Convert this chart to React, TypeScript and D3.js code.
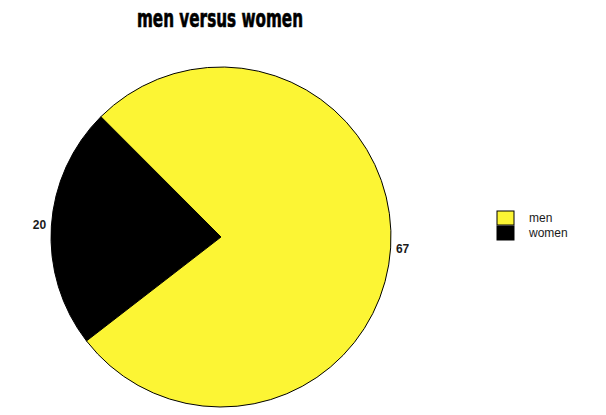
import React from "react";
import * as d3 from "d3";

const W = 606, H = 415;
const CX = 221, CY = 237, R = 170;

// slices, drawn in this order clockwise
const categories = ["women", "men"];
const values = [20, 67];
const colors = ["#000000", "#FCF534"];
// legend order
const legendOrder = ["men", "women"];

const START = (232.3 * Math.PI) / 180;

export default function App() {
  const pie = d3.pie<number>().sort(null).startAngle(START).endAngle(START + 2 * Math.PI);
  const arcs = pie(values);
  const arcGen = d3.arc<d3.PieArcDatum<number>>().innerRadius(0).outerRadius(R);
  const labelArc = d3.arc<d3.PieArcDatum<number>>().innerRadius(R + 12).outerRadius(R + 12);
  const color = d3.scaleOrdinal<string, string>(categories, colors);

  return (
    <svg width={W} height={H} style={{ display: "block", position: "absolute", left: 0, top: 0, background: "#fff" }}>
      {/* Title, squeezed to mimic a condensed heavy face */}
      <text x={137} y={27} fontSize="24" fontWeight="bold"
        fontFamily="'DejaVu Sans Condensed', 'DejaVu Sans', sans-serif" fill="#000"
        stroke="#000" strokeWidth="0.6"
        textLength={166} lengthAdjust="spacingAndGlyphs">
        men versus women
      </text>

      <g transform={`translate(${CX},${CY})`}>
        {arcs.map((a, i) => (
          <path key={categories[i]} d={arcGen(a) ?? ""} fill={color(categories[i])}
            stroke="#000" strokeWidth="1" />
        ))}
        {arcs.map((a, i) => {
          const [x, y] = labelArc.centroid(a);
          return (
            <text key={`l-${i}`} x={x} y={y + 4} textAnchor="middle" fontSize="12" fontWeight="bold"
              fontFamily="'Liberation Sans', Arial, sans-serif" fill="#1a1a1a">
              {values[i]}
            </text>
          );
        })}
      </g>

      {/* Legend */}
      {legendOrder.map((k, i) => (
        <g key={k} transform={`translate(497,${211 + i * 15})`}>
          <rect x={0} y={0} width={17} height={14} fill={color(k)} stroke="#000" strokeWidth="1" />
          <text x={32} y={11} fontSize="12" fontFamily="'Liberation Sans', Arial, sans-serif" fill="#1a1a1a">
            {k}
          </text>
        </g>
      ))}
    </svg>
  );
}
